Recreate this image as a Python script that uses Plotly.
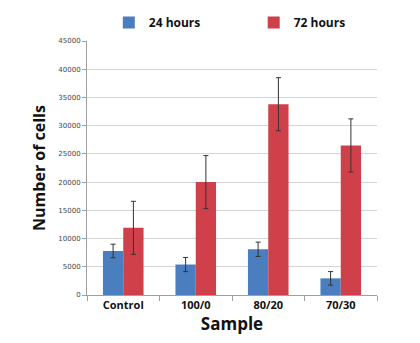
import plotly.graph_objects as go

categories = ["Control", "100/0", "80/20", "70/30"]
hours24 = [7800, 5400, 8100, 2950]
hours24_err = [1200, 1250, 1270, 1200]
hours72 = [11900, 20000, 33800, 26500]
hours72_err = [4700, 4700, 4700, 4700]
series_names = ["24 hours", "72 hours"]

BLUE = "#4a7ebf"
RED = "#d0404a"
bold = "Open Sans"

fig = go.Figure()
fig.add_trace(go.Bar(
    x=categories, y=hours24, name=series_names[0], marker_color=BLUE,
    marker_line_width=0, legend="legend",
    error_y=dict(type="data", array=hours24_err, color="#333333", thickness=1, width=2.5),
))
fig.add_trace(go.Bar(
    x=categories, y=hours72, name=series_names[1], marker_color=RED,
    marker_line_width=0, legend="legend2",
    error_y=dict(type="data", array=hours72_err, color="#333333", thickness=1, width=2.5),
))

legend_common = dict(
    orientation="h", y=1.0, xref="container", yref="container",
    xanchor="left", yanchor="top",
    font=dict(family=bold, size=12, color="#111111", weight="bold"),
    itemwidth=30, bgcolor="rgba(0,0,0,0)",
)

fig.update_layout(
    width=420, height=343,
    margin=dict(l=79, r=51, t=33, b=56, autoexpand=False),
    paper_bgcolor="white", plot_bgcolor="white",
    barmode="group", bargap=0.44, bargroupgap=0,
    showlegend=True,
    legend=dict(x=0.24, **legend_common),
    legend2=dict(x=0.585, **legend_common),
    xaxis=dict(
        type="category", showline=True, linecolor="#a0a0a0", linewidth=1,
        ticks="outside", tickson="boundaries", ticklen=5, tickcolor="#a0a0a0",
        tickfont=dict(family=bold, size=11, color="#111111", weight="bold"),
        title=dict(text="Sample", font=dict(family=bold, size=17, color="#111111", weight="bold"), standoff=4),
        showgrid=False,
    ),
    yaxis=dict(
        range=[0, 45000], dtick=5000, tickformat="d",
        showline=True, linecolor="#a0a0a0", linewidth=1,
        ticks="outside", ticklen=4, tickcolor="#a0a0a0",
        showgrid=True, gridcolor="#d4d4d4", gridwidth=1,
        tickfont=dict(family="DejaVu Sans", size=7, color="#444444"),
        title=dict(text="Number of cells", font=dict(family=bold, size=16, color="#111111", weight="bold"), standoff=8),
        zeroline=False,
    ),
)

fig.write_html("out.html")
